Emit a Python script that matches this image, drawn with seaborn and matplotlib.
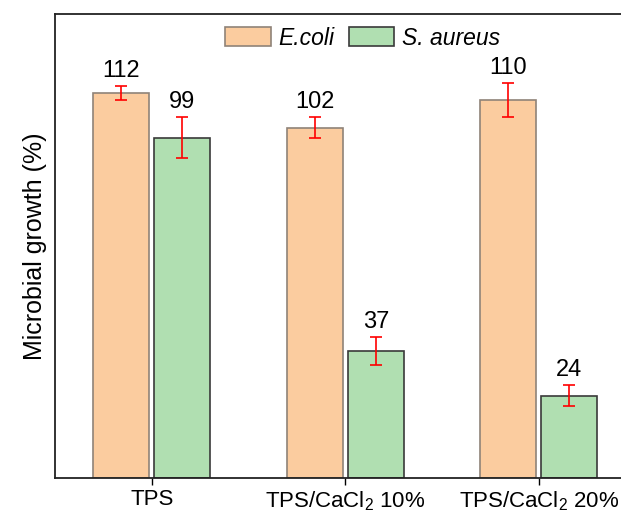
import pandas as pd
import matplotlib.pyplot as plt
import seaborn as sns

# values
groups = ['TPS', 'TPS/CaCl$_2$ 10%', 'TPS/CaCl$_2$ 20%']
ecoli = [112, 102, 110]
ecoli_err = [2, 3, 5]
saureus = [99, 37, 24]
saureus_err = [6, 4, 3]
strains = ['E.coli', 'S. aureus']

df = pd.DataFrame({
    'group': groups * 2,
    'strain': [strains[0]] * 3 + [strains[1]] * 3,
    'growth': ecoli + saureus,
})
errs = {strains[0]: ecoli_err, strains[1]: saureus_err}

sns.set_style('white', {'text.color': 'black', 'axes.labelcolor': 'black',
                        'xtick.color': 'black', 'axes.edgecolor': '#222222'})
plt.rcParams['font.family'] = ['Liberation Sans', 'DejaVu Sans']
plt.rcParams['mathtext.default'] = 'regular'

fig = plt.figure(figsize=(6.21, 5.16), dpi=100)
ax = fig.add_axes([0.0886, 0.0736, 0.935, 0.899])

sns.barplot(data=df, x='group', y='growth', hue='strain', order=groups,
            hue_order=strains, palette=['#FBCC9F', '#B0DFB1'],
            width=0.63, gap=0.08, errorbar=None, saturation=1,
            linewidth=1.2, ax=ax)

edge_cols = ['#8f8378', '#3a3a3a']
for cont, strain, ec in zip(ax.containers, strains, edge_cols):
    for bar, err in zip(cont, errs[strain]):
        bar.set_edgecolor(ec)
        x = bar.get_x() + bar.get_width() / 2
        h = bar.get_height()
        ax.errorbar(x, h, yerr=err, color='red', capsize=4, elinewidth=1.2,
                    capthick=1.2)
        ax.annotate(f'{h:.0f}', (x, h + err), xytext=(0, 3),
                    textcoords='offset points', ha='center', va='bottom',
                    fontsize=17, color='black')

ax.set_ylim(0, 135)
ax.set_xlim(-0.5, 2.5)
ax.set_yticks([])
ax.set_xlabel('')
ax.set_ylabel('Microbial growth (%)', fontsize=18, labelpad=6, color='black')
ax.tick_params(axis='x', labelsize=16, length=5, width=1, direction='out',
               bottom=True, pad=3, colors='black')
for side in ['left', 'bottom', 'top']:
    ax.spines[side].set_linewidth(1.3)
    ax.spines[side].set_color('#222222')
ax.spines['right'].set_visible(False)

handles, labels = ax.get_legend_handles_labels()
for hd, ec in zip(handles, edge_cols):
    hd.set_edgecolor(ec)
leg = ax.legend(handles, labels, loc='center', bbox_to_anchor=(0.53, 0.948),
                ncol=2, frameon=False, prop={'style': 'italic', 'size': 16.5},
                handlelength=2.0, handleheight=0.9, columnspacing=0.6,
                handletextpad=0.35)
for t in leg.get_texts():
    t.set_color('black')

fig.savefig('out.png', dpi=100)
